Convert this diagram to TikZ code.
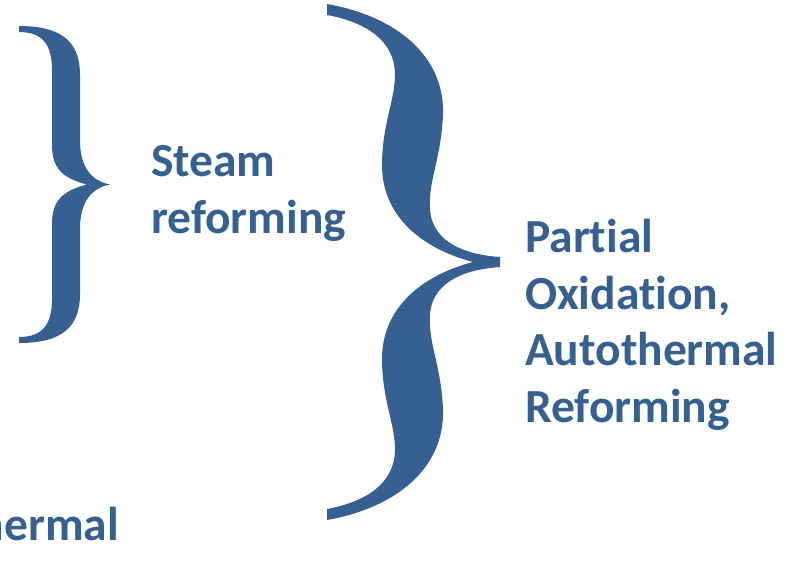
\documentclass[tikz,border=0pt]{standalone}
\usepackage{fontspec}
\newfontfamily\termfont{Carlito}[Ligatures=NoCommon]
\usepackage{xcolor}
\usepackage{tikz}
\usetikzlibrary{positioning}
\definecolor{bracecol}{RGB}{55,96,146}
\tikzset{
  brace/.style={fill=bracecol, draw=none},
  term/.style={inner sep=0pt, align=left, text=bracecol, font=\termfont\bfseries\fontsize{47.5}{56.5}\selectfont},
}

\begin{document}
\begin{tikzpicture}[x=1pt, y=-1pt]
    \useasboundingbox (0,0) rectangle (799,587);
    \clip (0,0) rectangle (799,587);

    % tips of the two braces
    \coordinate (smalltip) at (110,184.5);
    \coordinate (bigtip) at (500,262);

    % small brace around the steam reforming group
    \fill[brace] (19,26) .. controls (62,26) and (80,42) .. (80,75) -- (80,140)
        .. controls (80,168) and (92,181) .. (smalltip)
        .. controls (92,188) and (80,201) .. (80,229) -- (80,294)
        .. controls (80,327) and (62,343) .. (19,343) -- (19,337)
        .. controls (42,337) and (52,325) .. (52,299) -- (52,224)
        .. controls (52,201) and (62,191) .. (87,184.5)
        .. controls (62,178) and (52,168) .. (52,145) -- (52,70)
        .. controls (52,44) and (42,32) .. (19,32) -- cycle;

    % large curly brace
    \fill[brace] (327,4) .. controls (395,16) and (445,55) .. (443,115)
        .. controls (441,160) and (428,180) .. (430,210)
        .. controls (433,245) and (470,255) .. (500,257) -- (500,267)
        .. controls (470,269) and (433,279) .. (430,314)
        .. controls (428,344) and (441,364) .. (443,409)
        .. controls (445,469) and (395,508) .. (327,520) -- (327,509)
        .. controls (365,502) and (395,484) .. (395,449)
        .. controls (395,424) and (382,399) .. (382,359)
        .. controls (382,309) and (420,276) .. (473,262)
        .. controls (420,248) and (382,215) .. (382,165)
        .. controls (382,125) and (395,100) .. (395,75)
        .. controls (395,40) and (365,22) .. (327,15) -- cycle;

    % base anchors sit on the last line of each group
    \node[term, anchor=base west] (steam) at (151,233) {Steam\\reforming};
    \node[term, anchor=base west] (poxatr) at (525,422) {Partial\\Oxidation,\\Autothermal\\Reforming};
    \node[term, anchor=base east] (autotherm) at (119,540) {Autothermal};
\end{tikzpicture}
\end{document}
